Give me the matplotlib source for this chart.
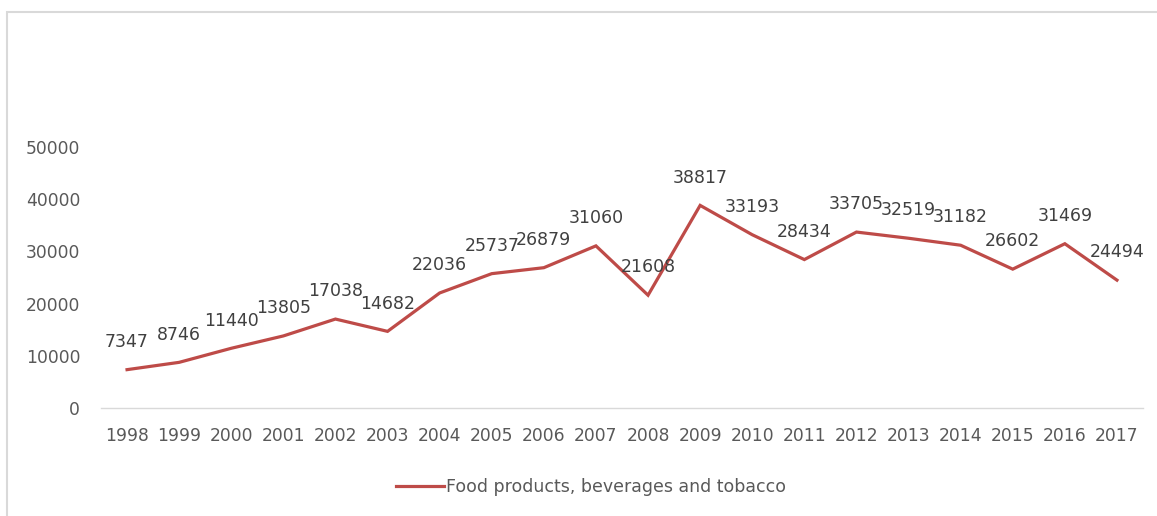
import matplotlib
matplotlib.use("Agg")
import matplotlib.pyplot as plt
from matplotlib.patches import Rectangle

years = [str(y) for y in range(1998, 2018)]
values = [7347, 8746, 11440, 13805, 17038, 14682, 22036, 25737, 26879, 31060,
          21608, 38817, 33193, 28434, 33705, 32519, 31182, 26602, 31469, 24494]
series_name = "Food products, beverages and tobacco"
yticks = [0, 10000, 20000, 30000, 40000, 50000]

plt.rcParams['font.family'] = ['DejaVu Sans']

W, H = 1157, 516
fig = plt.figure(figsize=(W / 100, H / 100), dpi=100)
ax = fig.add_axes([101 / W, 1 - 408 / H, (1143 - 101) / W, (408 - 147) / H])

x = list(range(len(years)))
line, = ax.plot(x, values, color='#be4b48', lw=2.3, solid_joinstyle='miter')

for xi, v in zip(x, values):
    ax.annotate(str(v), (xi, v), xytext=(0, 20), textcoords='offset points',
                ha='center', va='center', fontsize=12.5, color='#404040')

ax.set_xlim(-0.5, len(years) - 0.5)
ax.set_ylim(0, 50000)
ax.set_xticks(x)
ax.set_xticklabels(years)
ax.set_yticks(yticks)
ax.tick_params(axis='both', length=0, labelsize=12.3, labelcolor='#595959')
ax.tick_params(axis='x', pad=14)
ax.tick_params(axis='y', pad=15)

for s in ['top', 'right', 'left']:
    ax.spines[s].set_visible(False)
ax.spines['bottom'].set_color('#d9d9d9')
ax.spines['bottom'].set_linewidth(1.0)

fig.legend([line], [series_name], loc='center', bbox_to_anchor=(591 / W, 1 - 487 / H),
           frameon=False, fontsize=12.5, labelcolor='#595959', handlelength=2.8,
           handletextpad=0.1)

# light chart-area frame
fig.add_artist(Rectangle((7 / W, -0.1), 1.1, 1 - 12 / H + 0.1, transform=fig.transFigure,
                         fill=False, edgecolor='#d9d9d9', lw=1.5))

fig.savefig('out.png', dpi=100)
